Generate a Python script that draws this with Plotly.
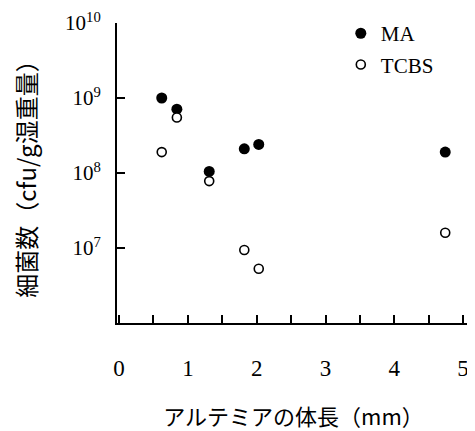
import plotly.graph_objects as go

body_length = [0.62, 0.84, 1.31, 1.82, 2.03, 4.74]
ma_counts = [1.0e9, 7.1e8, 1.05e8, 2.1e8, 2.4e8, 1.9e8]
tcbs_counts = [1.9e8, 5.5e8, 7.8e7, 9.4e6, 5.3e6, 1.6e7]

x_tickvals = [0, 1, 2, 3, 4, 5]
x_ticktext = ["0", "1", "2", "3", "4", "5"]
y_tickvals = [1e7, 1e8, 1e9, 1e10]
y_ticktext = ["10<sup>7</sup>", "10<sup>8</sup>", "10<sup>9</sup>", "10<sup>10</sup>"]

serif = "Liberation Serif, Noto Sans CJK JP, serif"

fig = go.Figure()
fig.add_trace(go.Scatter(
    x=body_length, y=ma_counts, mode="markers", name="MA", legendgroup="ma",
    marker=dict(symbol="circle", size=11, color="black", line=dict(width=0)),
))
fig.add_trace(go.Scatter(
    x=body_length, y=tcbs_counts, mode="markers", name="TCBS", legendgroup="tcbs",
    marker=dict(symbol="circle", size=9, color="white", line=dict(width=1.6, color="black")),
))

# page body has an 8px margin, so the figure is sized to fill the rest of the window
fig.update_layout(
    width=467, height=423,
    margin=dict(l=109, r=5, t=12, b=108),
    plot_bgcolor="white", paper_bgcolor="white",
    font=dict(family=serif, size=20, color="black"),
    showlegend=True,
    legend=dict(x=0.634, y=1.033, xanchor="left", yanchor="top",
                bgcolor="rgba(0,0,0,0)", font=dict(size=21, family=serif),
                tracegroupgap=1, itemwidth=30),
)
fig.update_xaxes(
    range=[-0.03, 5.1], showline=True, linecolor="black", linewidth=2,
    showgrid=False, zeroline=False, mirror=False, automargin=False,
    tickmode="array", tickvals=x_tickvals, ticktext=x_ticktext,
    ticks="inside", ticklen=8, tickwidth=2, tickcolor="black",
    ticklabelstandoff=23,
    minor=dict(dtick=0.5, tick0=0, ticks="inside", ticklen=8, tickwidth=2, tickcolor="black", showgrid=False),
    tickfont=dict(family=serif, size=23),
    title=dict(text="アルテミアの体長（mm）", standoff=31,
               font=dict(family="Noto Sans CJK JP, Liberation Serif", size=22)),
)
fig.update_yaxes(
    type="log", range=[6, 10], showline=True, linecolor="black", linewidth=2,
    showgrid=False, zeroline=False, automargin=False,
    tickmode="array", tickvals=y_tickvals, ticktext=y_ticktext,
    ticks="inside", ticklen=8, tickwidth=2, tickcolor="black",
    ticklabelstandoff=10,
    tickfont=dict(family=serif, size=21),
    title=dict(text="細菌数（cfu/g湿重量）", standoff=26,
               font=dict(family="Noto Sans CJK JP, Liberation Sans", size=24)),
)

fig.write_html("out.html")
